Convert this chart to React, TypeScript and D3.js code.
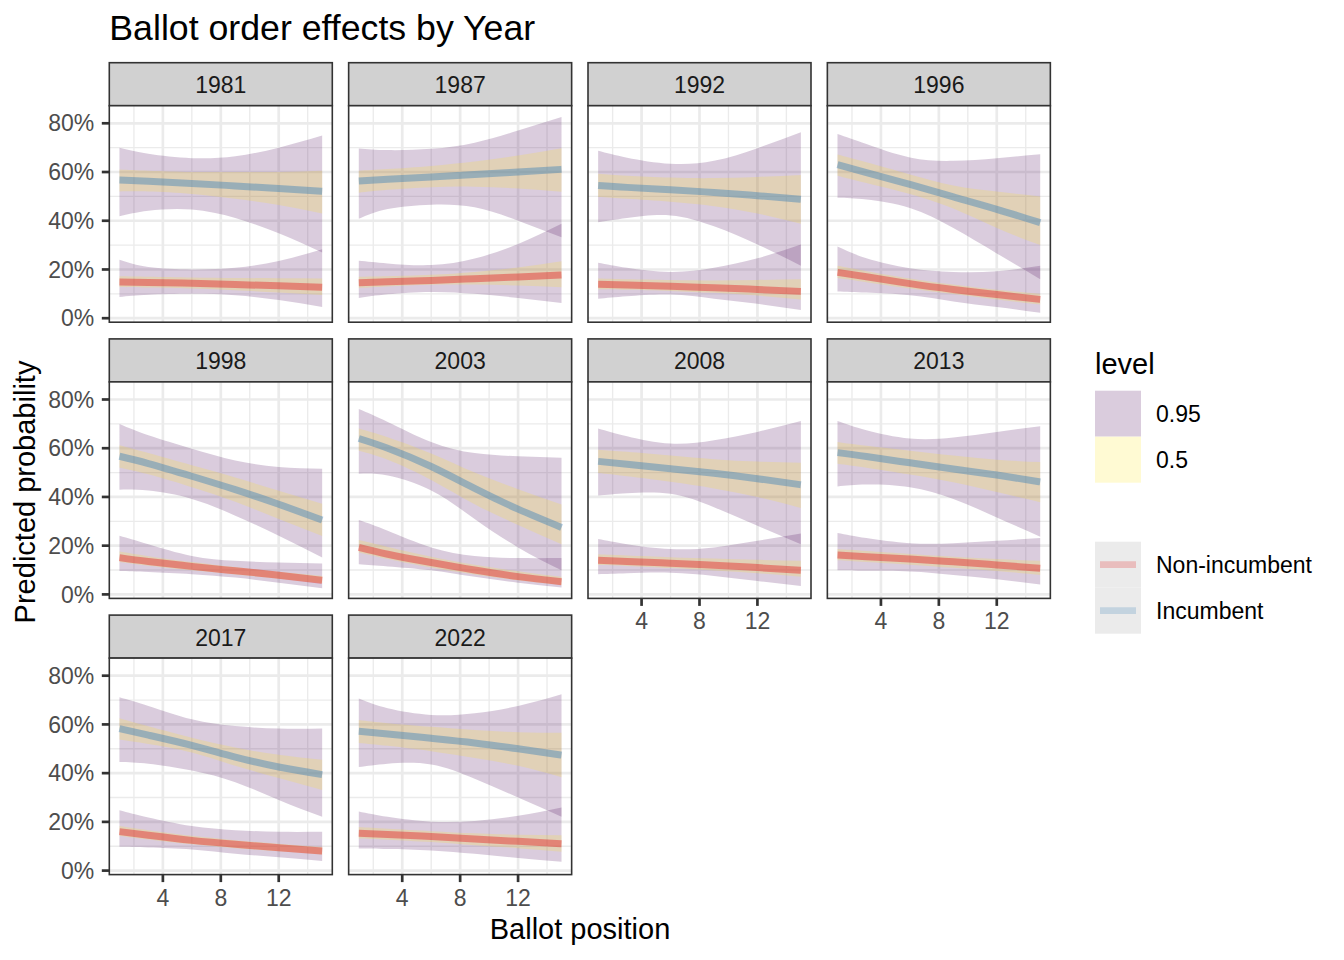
import React from 'react';
import * as d3 from 'd3';

// facet order, ballot positions where values were read
const years = ['1981', '1987', '1992', '1996', '1998', '2003', '2008', '2013', '2017', '2022'];
const positions = [1, 3, 6, 9, 12, 15];

// incumbent: fitted line and interval bounds, one row per year
const incFit = [
  [0.567, 0.562, 0.553, 0.543, 0.532, 0.521],
  [0.563, 0.57, 0.58, 0.59, 0.6, 0.611],
  [0.545, 0.537, 0.527, 0.516, 0.503, 0.488],
  [0.63, 0.598, 0.549, 0.498, 0.447, 0.392],
  [0.567, 0.537, 0.485, 0.43, 0.37, 0.305],
  [0.64, 0.6, 0.525, 0.435, 0.35, 0.275],
  [0.546, 0.534, 0.516, 0.497, 0.475, 0.45],
  [0.582, 0.566, 0.54, 0.515, 0.49, 0.462],
  [0.583, 0.556, 0.514, 0.466, 0.425, 0.394],
  [0.572, 0.561, 0.543, 0.524, 0.5, 0.474],
];
const incLo50 = [
  [0.52, 0.52, 0.51, 0.49, 0.465, 0.43],
  [0.515, 0.527, 0.538, 0.54, 0.532, 0.519],
  [0.497, 0.49, 0.478, 0.46, 0.43, 0.388],
  [0.585, 0.555, 0.51, 0.45, 0.37, 0.3],
  [0.52, 0.493, 0.44, 0.38, 0.31, 0.24],
  [0.59, 0.553, 0.47, 0.37, 0.285, 0.206],
  [0.498, 0.485, 0.462, 0.435, 0.4, 0.355],
  [0.536, 0.52, 0.492, 0.46, 0.42, 0.378],
  [0.538, 0.52, 0.485, 0.43, 0.38, 0.331],
  [0.524, 0.512, 0.49, 0.462, 0.43, 0.383],
];
const incHi50 = [
  [0.61, 0.605, 0.6, 0.6, 0.6, 0.605],
  [0.605, 0.612, 0.625, 0.643, 0.668, 0.698],
  [0.593, 0.585, 0.577, 0.575, 0.58, 0.588],
  [0.672, 0.64, 0.59, 0.545, 0.52, 0.5],
  [0.612, 0.58, 0.53, 0.48, 0.425, 0.372],
  [0.681, 0.645, 0.578, 0.5, 0.432, 0.369],
  [0.594, 0.585, 0.57, 0.555, 0.545, 0.54],
  [0.626, 0.61, 0.59, 0.57, 0.553, 0.543],
  [0.625, 0.592, 0.545, 0.505, 0.475, 0.455],
  [0.618, 0.605, 0.59, 0.577, 0.568, 0.566],
];
const incLo95 = [
  [0.418, 0.441, 0.446, 0.411, 0.349, 0.27],
  [0.408, 0.448, 0.466, 0.455, 0.4, 0.332],
  [0.394, 0.411, 0.422, 0.377, 0.303, 0.215],
  [0.494, 0.487, 0.452, 0.37, 0.266, 0.16],
  [0.43, 0.426, 0.392, 0.323, 0.241, 0.151],
  [0.495, 0.488, 0.426, 0.31, 0.193, 0.099],
  [0.406, 0.415, 0.413, 0.358, 0.282, 0.206],
  [0.443, 0.451, 0.44, 0.392, 0.316, 0.237],
  [0.446, 0.439, 0.411, 0.363, 0.29, 0.221],
  [0.425, 0.439, 0.436, 0.377, 0.3, 0.221],
];
const incHi95 = [
  [0.7, 0.675, 0.657, 0.665, 0.7, 0.75],
  [0.697, 0.69, 0.695, 0.72, 0.77, 0.826],
  [0.687, 0.659, 0.634, 0.646, 0.698, 0.763],
  [0.756, 0.715, 0.66, 0.646, 0.657, 0.673],
  [0.699, 0.653, 0.598, 0.55, 0.523, 0.516],
  [0.761, 0.708, 0.626, 0.58, 0.567, 0.561],
  [0.681, 0.649, 0.619, 0.633, 0.667, 0.712],
  [0.712, 0.674, 0.64, 0.644, 0.667, 0.69],
  [0.712, 0.676, 0.621, 0.593, 0.583, 0.583],
  [0.706, 0.666, 0.639, 0.646, 0.676, 0.724],
];

// non-incumbent
const nonFit = [
  [0.149, 0.147, 0.143, 0.138, 0.133, 0.127],
  [0.146, 0.15, 0.155, 0.162, 0.169, 0.177],
  [0.139, 0.136, 0.131, 0.125, 0.118, 0.11],
  [0.188, 0.17, 0.142, 0.118, 0.097, 0.077],
  [0.151, 0.135, 0.115, 0.097, 0.079, 0.058],
  [0.193, 0.165, 0.131, 0.1, 0.073, 0.052],
  [0.14, 0.135, 0.128, 0.12, 0.11, 0.099],
  [0.162, 0.155, 0.145, 0.134, 0.121, 0.107],
  [0.16, 0.145, 0.124, 0.108, 0.094, 0.08],
  [0.153, 0.148, 0.14, 0.13, 0.12, 0.11],
];
const nonLo50 = [
  [0.128, 0.126, 0.122, 0.115, 0.105, 0.095],
  [0.124, 0.13, 0.137, 0.138, 0.134, 0.127],
  [0.119, 0.117, 0.112, 0.104, 0.093, 0.077],
  [0.165, 0.148, 0.122, 0.099, 0.077, 0.056],
  [0.133, 0.118, 0.099, 0.082, 0.064, 0.046],
  [0.172, 0.145, 0.11, 0.082, 0.058, 0.039],
  [0.121, 0.117, 0.108, 0.098, 0.087, 0.072],
  [0.14, 0.133, 0.122, 0.109, 0.096, 0.08],
  [0.142, 0.128, 0.108, 0.092, 0.079, 0.066],
  [0.132, 0.127, 0.117, 0.104, 0.092, 0.077],
];
const nonHi50 = [
  [0.172, 0.17, 0.167, 0.165, 0.164, 0.163],
  [0.17, 0.172, 0.178, 0.19, 0.208, 0.234],
  [0.163, 0.16, 0.157, 0.155, 0.157, 0.16],
  [0.215, 0.193, 0.163, 0.138, 0.117, 0.1],
  [0.176, 0.157, 0.133, 0.112, 0.093, 0.076],
  [0.223, 0.195, 0.155, 0.122, 0.095, 0.072],
  [0.165, 0.16, 0.153, 0.147, 0.142, 0.138],
  [0.186, 0.178, 0.166, 0.155, 0.145, 0.138],
  [0.183, 0.166, 0.143, 0.125, 0.11, 0.097],
  [0.179, 0.172, 0.162, 0.153, 0.147, 0.145],
];
const nonLo95 = [
  [0.087, 0.096, 0.1, 0.094, 0.075, 0.046],
  [0.083, 0.098, 0.108, 0.1, 0.083, 0.062],
  [0.08, 0.09, 0.097, 0.08, 0.059, 0.034],
  [0.11, 0.105, 0.094, 0.069, 0.046, 0.022],
  [0.096, 0.092, 0.083, 0.069, 0.048, 0.025],
  [0.124, 0.115, 0.099, 0.072, 0.048, 0.028],
  [0.083, 0.087, 0.089, 0.076, 0.055, 0.034],
  [0.099, 0.097, 0.094, 0.08, 0.062, 0.041],
  [0.098, 0.095, 0.087, 0.069, 0.055, 0.039],
  [0.091, 0.089, 0.083, 0.069, 0.052, 0.036],
];
const nonHi95 = [
  [0.24, 0.21, 0.2, 0.207, 0.235, 0.283],
  [0.236, 0.225, 0.218, 0.245, 0.305, 0.388],
  [0.228, 0.207, 0.19, 0.207, 0.246, 0.303],
  [0.294, 0.246, 0.205, 0.19, 0.193, 0.215],
  [0.241, 0.206, 0.158, 0.138, 0.131, 0.127],
  [0.305, 0.261, 0.193, 0.158, 0.149, 0.149],
  [0.227, 0.206, 0.186, 0.193, 0.22, 0.25],
  [0.252, 0.231, 0.21, 0.21, 0.22, 0.231],
  [0.248, 0.218, 0.183, 0.166, 0.159, 0.159],
  [0.243, 0.221, 0.201, 0.204, 0.225, 0.259],
];

const xMajor = [4, 8, 12];
const xMinor = [2, 6, 10, 14];
const yMajor = [0, 0.2, 0.4, 0.6, 0.8];
const yMinor = [0.1, 0.3, 0.5, 0.7];

const levels = ['0.95', '0.5'];
const groups = ['Non-incumbent', 'Incumbent'];

const FONT = '"Liberation Sans", Arial, Helvetica, sans-serif';
const W = 1344;
const H = 960;
const nCol = 4;
const panelW = 223;
const panelH = 216.5;
const stripH = 43;
const colStep = 239.35;
const rowStep = 276.2;
const left0 = 109.3;
const top0 = 62.7;

const levelFill = d3.scaleOrdinal<string, string>().domain(levels).range(['#440154', '#FDE725']);
const groupColor = d3.scaleOrdinal<string, string>().domain(groups).range(['#E41A1C', '#377EB8']);

const x = d3.scaleLinear().domain([0.3, 15.7]).range([0, panelW]);
const y = d3.scaleLinear().domain([-0.0164, 0.8722]).range([panelH, 0]);
const pct = d3.format('.0%');

const idx = positions.map((_, i) => i);
const band = (lo: number[], hi: number[]) =>
  d3
    .area<number>()
    .x((i) => x(positions[i]))
    .y0((i) => y(lo[i]))
    .y1((i) => y(hi[i]))
    .curve(d3.curveNatural)(idx) || '';
const fitLine = (v: number[]) =>
  d3
    .line<number>()
    .x((i) => x(positions[i]))
    .y((i) => y(v[i]))
    .curve(d3.curveNatural)(idx) || '';

const Panel: React.FC<{ k: number }> = ({ k }) => {
  const col = k % nCol;
  const row = Math.floor(k / nCol);
  const px = left0 + col * colStep;
  const py = top0 + row * rowStep;
  const showX = k + nCol >= years.length;
  const showY = col === 0;
  return (
    <g transform={`translate(${px},${py})`}>
      <rect x={0} y={0} width={panelW} height={stripH} fill="#D1D1D1" stroke="#333333" strokeWidth={1.6} />
      <text x={panelW / 2} y={30.6} textAnchor="middle" fontSize={23} fill="#1A1A1A">
        {years[k]}
      </text>
      <g transform={`translate(0,${stripH})`}>
        <rect width={panelW} height={panelH} fill="#FFFFFF" />
        {yMinor.map((v) => (
          <line key={'ym' + v} x1={0} x2={panelW} y1={y(v)} y2={y(v)} stroke="#EBEBEB" strokeWidth={1.35} />
        ))}
        {xMinor.map((v) => (
          <line key={'xm' + v} x1={x(v)} x2={x(v)} y1={0} y2={panelH} stroke="#EBEBEB" strokeWidth={1.35} />
        ))}
        {yMajor.map((v) => (
          <line key={'yM' + v} x1={0} x2={panelW} y1={y(v)} y2={y(v)} stroke="#EBEBEB" strokeWidth={2.7} />
        ))}
        {xMajor.map((v) => (
          <line key={'xM' + v} x1={x(v)} x2={x(v)} y1={0} y2={panelH} stroke="#EBEBEB" strokeWidth={2.7} />
        ))}
        <path d={band(incLo95[k], incHi95[k])} fill={levelFill('0.95')} fillOpacity={0.2} />
        <path d={band(nonLo95[k], nonHi95[k])} fill={levelFill('0.95')} fillOpacity={0.2} />
        <path d={band(incLo50[k], incHi50[k])} fill={levelFill('0.5')} fillOpacity={0.2} />
        <path d={band(nonLo50[k], nonHi50[k])} fill={levelFill('0.5')} fillOpacity={0.2} />
        <path d={fitLine(nonFit[k])} fill="none" stroke={groupColor('Non-incumbent')} strokeOpacity={0.42} strokeWidth={7} />
        <path d={fitLine(incFit[k])} fill="none" stroke={groupColor('Incumbent')} strokeOpacity={0.42} strokeWidth={7} />
        <rect width={panelW} height={panelH} fill="none" stroke="#333333" strokeWidth={1.6} />
        {showY &&
          yMajor.map((v) => (
            <g key={'yt' + v}>
              <line x1={-7.5} x2={0} y1={y(v)} y2={y(v)} stroke="#333333" strokeWidth={2.7} />
              <text x={-15} y={y(v) + 8.2} textAnchor="end" fontSize={23} fill="#4D4D4D">
                {pct(v)}
              </text>
            </g>
          ))}
        {showX &&
          xMajor.map((v) => (
            <g key={'xt' + v}>
              <line x1={x(v)} x2={x(v)} y1={panelH} y2={panelH + 7.5} stroke="#333333" strokeWidth={2.7} />
              <text x={x(v)} y={panelH + 31} textAnchor="middle" fontSize={23} fill="#4D4D4D">
                {v}
              </text>
            </g>
          ))}
      </g>
    </g>
  );
};

const Legend: React.FC = () => {
  const lx = 1095;
  const key = 46;
  return (
    <g>
      <text x={lx} y={374} fontSize={29} fill="#000000">
        level
      </text>
      {levels.map((l, i) => (
        <g key={l} transform={`translate(${lx},${390.7 + i * key})`}>
          <rect width={key} height={key} fill="#FFFFFF" />
          <rect width={key} height={key} fill={levelFill(l)} fillOpacity={0.2} />
          <text x={61} y={key / 2 + 8.2} fontSize={23} fill="#000000">
            {l}
          </text>
        </g>
      ))}
      {groups.map((g, i) => (
        <g key={g} transform={`translate(${lx},${541.7 + i * key})`}>
          <rect width={key} height={key} fill="#EBEBEB" />
          <line x1={5} x2={41} y1={key / 2} y2={key / 2} stroke={groupColor(g)} strokeOpacity={0.22} strokeWidth={6.7} />
          <text x={61} y={key / 2 + 8.2} fontSize={23} fill="#000000">
            {g}
          </text>
        </g>
      ))}
    </g>
  );
};

export default function App() {
  return (
    <svg
      width={W}
      height={H}
      viewBox={`0 0 ${W} ${H}`}
      style={{ position: 'absolute', left: 0, top: 0, background: '#FFFFFF' }}
      fontFamily={FONT}
    >
      <rect width={W} height={H} fill="#FFFFFF" />
      <text x={109.3} y={40} fontSize={35.7} fill="#000000">
        Ballot order effects by Year
      </text>
      {years.map((_, k) => (
        <Panel key={years[k]} k={k} />
      ))}
      <text x={580} y={939} textAnchor="middle" fontSize={29} fill="#000000">
        Ballot position
      </text>
      <text transform="translate(35,492) rotate(-90)" textAnchor="middle" fontSize={29} fill="#000000">
        Predicted probability
      </text>
      <Legend />
    </svg>
  );
}
